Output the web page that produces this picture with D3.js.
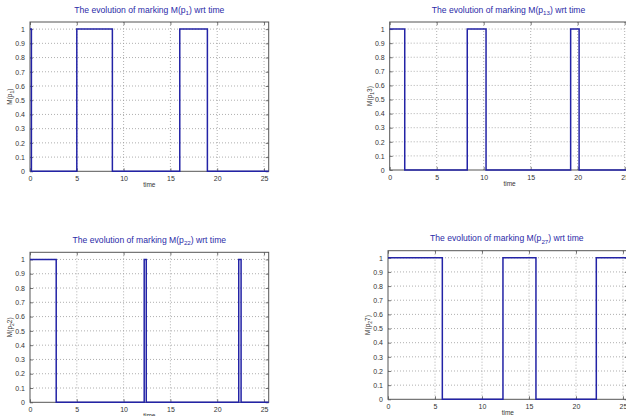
<!DOCTYPE html>
<html><head><meta charset="utf-8">
<script src="https://cdn.jsdelivr.net/npm/d3@7"></script>
<style>
body{margin:0;background:#fff;overflow:hidden}
svg{display:block}
text{font-family:"Liberation Sans",Arial,sans-serif}
</style></head>
<body><svg id="c" width="626" height="416"></svg>
<script>
// ---- data (step signals: value holds from time[i] until time[i+1]) ----
const p1Times  = [0, 0.15, 5.0, 8.8, 16.0, 18.95, 25.5];
const p1Values = [1, 0, 1, 0, 1, 0, 0];
const p13Times  = [0, 1.6, 8.25, 10.25, 19.25, 20.15, 25.5];
const p13Values = [1, 0, 1, 0, 1, 0, 0];
const p22Times  = [0, 2.8, 12.2, 12.42, 22.3, 22.55, 25.5];
const p22Values = [1, 0, 1, 0, 1, 0, 0];
const p27Times  = [0, 5.78, 12.23, 15.74, 22.16, 25.5];
const p27Values = [1, 0, 1, 0, 1, 1];
const xTicks = [0, 5, 10, 15, 20, 25];
const yTicks = [0, 0.1, 0.2, 0.3, 0.4, 0.5, 0.6, 0.7, 0.8, 0.9, 1];
const xDomain = [0, 25.5];
const yDomain = [0, 1.05];
const titleSubs = ["1", "13", "22", "27"];
const yLabelParts = [["1", ")"], ["1", "3)"], ["2", "2)"], ["2", "7)"]];
const xLabel = "time";

const series = [
  {t: p1Times, v: p1Values},
  {t: p13Times, v: p13Values},
  {t: p22Times, v: p22Values},
  {t: p27Times, v: p27Values}
];

// ---- layout ----
const panels = [
  {x0: 30,    x1: 268.7, y0: 22,    y1: 171.3},
  {x0: 389.7, x1: 629.4, y0: 22,    y1: 170},
  {x0: 30,    x1: 268.7, y0: 252.3, y1: 402.3},
  {x0: 388,   x1: 627.7, y0: 250.7, y1: 399.3}
];
const lineColor = "#2323a6";
const titleColor = "#2b2ba8";
const svg = d3.select("#c");

panels.forEach((p, i) => {
  const x = d3.scaleLinear().domain(xDomain).range([p.x0, p.x1]);
  const y = d3.scaleLinear().domain(yDomain).range([p.y1, p.y0]);
  const g = svg.append("g");

  // grid
  g.selectAll(".gx").data(xTicks.filter(d => d > 0)).join("line")
    .attr("x1", d => x(d)).attr("x2", d => x(d))
    .attr("y1", p.y0).attr("y2", p.y1)
    .attr("stroke", "#9a9a9a").attr("stroke-width", 0.8).attr("stroke-dasharray", "1,2");
  g.selectAll(".gy").data(yTicks.filter(d => d > 0)).join("line")
    .attr("x1", p.x0).attr("x2", p.x1)
    .attr("y1", d => y(d)).attr("y2", d => y(d))
    .attr("stroke", "#9a9a9a").attr("stroke-width", 0.8).attr("stroke-dasharray", "1,2");

  // axes
  const ax = d3.axisBottom(x).tickValues(xTicks).tickSize(-3).tickPadding(5).tickFormat(d3.format("d"));
  const gx = g.append("g").attr("transform", `translate(0,${p.y1})`).call(ax);
  const ay = d3.axisLeft(y).tickValues(yTicks).tickSize(-3).tickPadding(5).tickFormat(d => d === 0 || d === 1 ? d3.format("d")(d) : d3.format(".1f")(d));
  const gy = g.append("g").attr("transform", `translate(${p.x0},0)`).call(ay);
  [gx, gy].forEach(a => {
    a.select(".domain").remove();
    a.selectAll("line").attr("stroke", "#555").attr("stroke-width", 0.8);
    a.selectAll("text").attr("fill", "#333").style("font-size", "7px");
  });
  // top/right ticks
  const gt = g.append("g").attr("transform", `translate(0,${p.y0})`).call(d3.axisTop(x).tickValues(xTicks).tickSize(-3).tickFormat(""));
  const gr = g.append("g").attr("transform", `translate(${p.x1},0)`).call(d3.axisRight(y).tickValues(yTicks).tickSize(-3).tickFormat(""));
  [gt, gr].forEach(a => {
    a.select(".domain").remove();
    a.selectAll("line").attr("stroke", "#555").attr("stroke-width", 0.8);
  });

  // box
  g.append("rect").attr("x", p.x0).attr("y", p.y0)
    .attr("width", p.x1 - p.x0).attr("height", p.y1 - p.y0)
    .attr("fill", "none").attr("stroke", "#555").attr("stroke-width", 1);

  // step line
  const s = series[i];
  const pts = s.t.map((t, k) => [t, s.v[k]]);
  const line = d3.line().x(d => x(d[0])).y(d => y(d[1])).curve(d3.curveStepAfter);
  g.append("path").attr("d", line(pts))
    .attr("fill", "none").attr("stroke", lineColor).attr("stroke-width", 1.5);

  // title
  const cx = (p.x0 + p.x1) / 2 - (i % 2 === 1 ? 1 : 0);
  const tt = g.append("text").attr("x", cx).attr("y", p.y0 - 9.5)
    .attr("text-anchor", "middle").attr("fill", titleColor)
    .style("font-size", "8.6px");
  tt.append("tspan").text("The evolution of marking M(p");
  tt.append("tspan").attr("dy", 2.5).style("font-size", "6.2px").text(titleSubs[i]);
  tt.append("tspan").attr("dy", -2.5).text(") wrt time");

  // x label
  g.append("text").attr("x", (p.x0 + p.x1) / 2).attr("y", p.y1 + 15.5)
    .attr("text-anchor", "middle").attr("fill", "#333").style("font-size", "6.5px").text(xLabel);

  // y label
  const yl = g.append("text")
    .attr("transform", `translate(${p.x0 - 18},${(p.y0 + p.y1) / 2}) rotate(-90)`)
    .attr("text-anchor", "middle").attr("fill", "#333").style("font-size", "6.5px");
  yl.append("tspan").text("M(p");
  yl.append("tspan").attr("dy", 2).style("font-size", "5px").text(yLabelParts[i][0]);
  yl.append("tspan").attr("dy", -2).text(yLabelParts[i][1]);
});
</script>
</body></html>
